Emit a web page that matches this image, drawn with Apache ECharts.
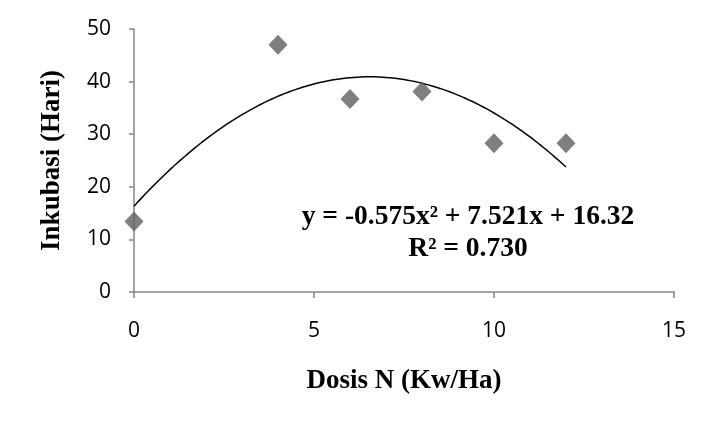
<!DOCTYPE html>
<html><head><meta charset="utf-8">
<script src="https://cdn.jsdelivr.net/npm/echarts@6/dist/echarts.min.js"></script>
<style>html,body{margin:0;padding:0;background:#fff}#c{width:711px;height:423px}</style>
</head><body><div id="c"></div>
<script>
const dosis = [0, 4, 6, 8, 10, 12];
const inkubasi = [13.4, 47.0, 36.7, 38.1, 28.3, 28.3];
const xTicks = [0, 5, 10, 15];
const yTicks = [0, 10, 20, 30, 40, 50];
const coef = [16.32, 7.521, -0.575]; // from displayed equation
const eqText = 'y = -0.575x² + 7.521x + 16.32';
const r2Text = 'R² = 0.730';
const xTitle = 'Dosis N (Kw/Ha)';
const yTitle = 'Inkubasi (Hari)';

const trend = [];
for (let i = 0; i <= 120; i++) {
  const x = i / 10;
  trend.push([x, coef[0] + coef[1] * x + coef[2] * x * x]);
}
const chart = echarts.init(document.getElementById('c'), null, {renderer: 'canvas'});
const axisGray = '#868686';
chart.setOption({
  animation: false,
  backgroundColor: '#fff',
  grid: {left: 134, right: 37, top: 29, bottom: 131},
  xAxis: {
    type: 'value', min: xTicks[0], max: xTicks[xTicks.length - 1], interval: 5,
    axisLine: {show: true, lineStyle: {color: axisGray, width: 1.5}},
    axisTick: {show: true, length: 6, lineStyle: {color: axisGray, width: 1.5}},
    splitLine: {show: false},
    axisLabel: {margin: 29, fontFamily: 'Open Sans', fontSize: 21, color: '#000'},
    name: xTitle, nameLocation: 'middle', nameGap: 76,
    nameTextStyle: {fontFamily: 'Liberation Serif', fontWeight: 'bold', fontSize: 27, color: '#000'}
  },
  yAxis: {
    type: 'value', min: yTicks[0], max: yTicks[yTicks.length - 1], interval: 10,
    axisLine: {show: true, lineStyle: {color: axisGray, width: 1.5}},
    axisTick: {show: true, length: 5, lineStyle: {color: axisGray, width: 1.5}},
    splitLine: {show: false},
    axisLabel: {margin: 23, fontFamily: 'Open Sans', fontSize: 21, color: '#000'},
    name: yTitle, nameLocation: 'middle', nameGap: 68, nameRotate: 90,
    nameTextStyle: {fontFamily: 'Liberation Serif', fontWeight: 'bold', fontSize: 27, color: '#000'}
  },
  series: [
    {
      type: 'line', data: trend, showSymbol: false, smooth: false,
      lineStyle: {color: '#000', width: 1.5}, z: 2
    },
    {
      type: 'scatter', data: dosis.map((d, i) => [d, inkubasi[i]]),
      symbol: 'diamond', symbolSize: [19, 20],
      itemStyle: {color: '#5f5f5f'}, z: 3
    }
  ],
  graphic: [
    {type: 'text', style: {text: eqText, x: 468, y: 217, align: 'center', verticalAlign: 'middle',
      fontFamily: 'Liberation Serif', fontWeight: 'bold', fontSize: 27.5, fill: '#000'}},
    {type: 'text', style: {text: r2Text, x: 468, y: 249, align: 'center', verticalAlign: 'middle',
      fontFamily: 'Liberation Serif', fontWeight: 'bold', fontSize: 27.5, fill: '#000'}}
  ]
});
</script></body></html>
